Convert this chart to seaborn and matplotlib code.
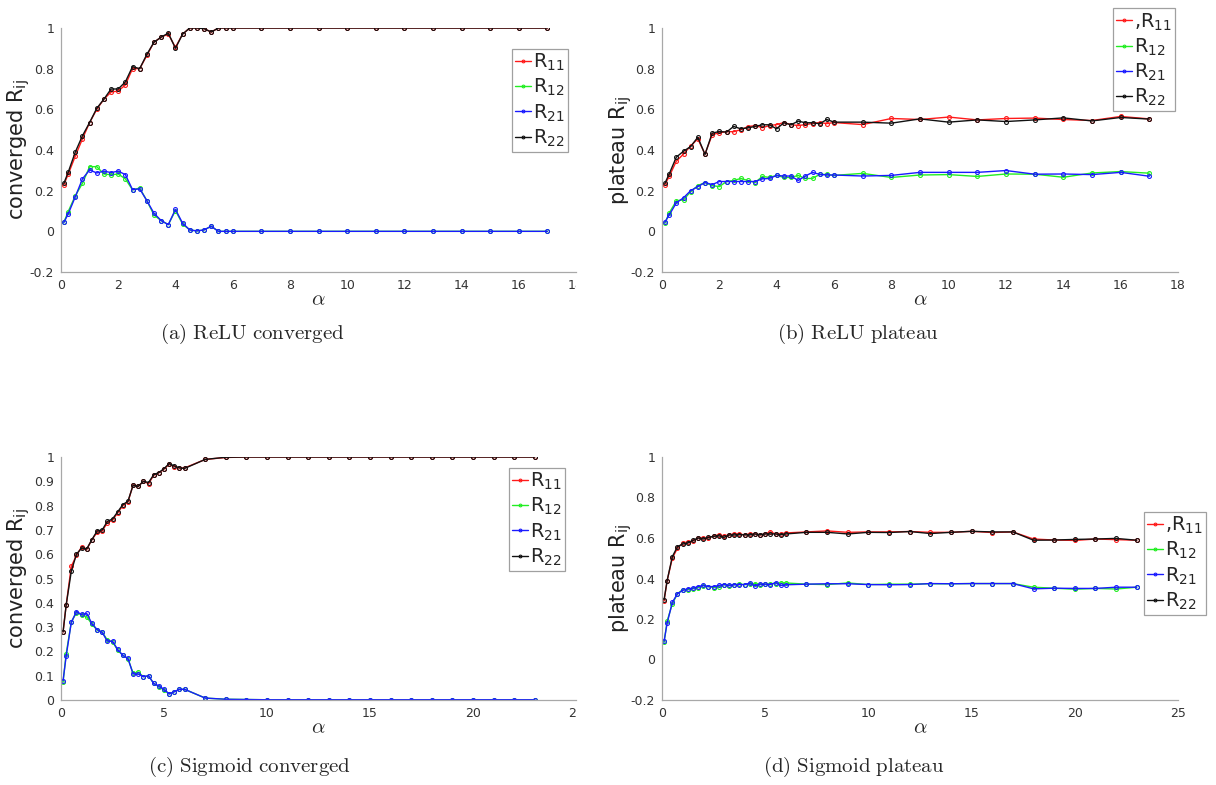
import numpy as np
import pandas as pd
import matplotlib
matplotlib.use("Agg")
import matplotlib.pyplot as plt
import seaborn as sns
from matplotlib.patches import Rectangle

# ---------------- data ----------------
alpha_relu = [0.1, 0.25, 0.5, 0.75, 1, 1.25, 1.5, 1.75, 2, 2.25, 2.5, 2.75, 3, 3.25,
              3.5, 3.75, 4, 4.25, 4.5, 4.75, 5, 5.25, 5.5, 5.75, 6,
              7, 8, 9, 10, 11, 12, 13, 14, 15, 16, 17]
alpha_sig = [0.1, 0.25, 0.5, 0.75, 1, 1.25, 1.5, 1.75, 2, 2.25, 2.5, 2.75, 3, 3.25,
             3.5, 3.75, 4, 4.25, 4.5, 4.75, 5, 5.25, 5.5, 5.75, 6,
             7, 8, 9, 10, 11, 12, 13, 14, 15, 16, 17, 18, 19, 20, 21, 22, 23]

# (a) ReLU converged
a_R11 = [0.23, 0.28, 0.37, 0.455, 0.535, 0.60, 0.65, 0.685, 0.69, 0.72, 0.80, 0.80, 0.865,
         0.93, 0.955, 0.97, 0.905, 0.97, 1.0, 1.0, 0.997, 0.98, 1.0, 1.0, 1.0,
         1.0, 1.0, 1.0, 1.0, 1.0, 1.0, 1.0, 1.0, 1.0, 1.0, 1.0]
a_R12 = [0.044, 0.097, 0.175, 0.236, 0.318, 0.318, 0.282, 0.278, 0.282, 0.258, 0.204, 0.213,
         0.151, 0.08, 0.053, 0.033, 0.102, 0.036, 0.007, 0.002, 0.007, 0.025, 0.0, 0.0, 0.0,
         0.0, 0.0, 0.0, 0.0, 0.0, 0.0, 0.0, 0.0, 0.0, 0.0, 0.0]
a_R21 = [0.044, 0.085, 0.17, 0.258, 0.302, 0.287, 0.296, 0.289, 0.296, 0.279, 0.205, 0.209,
         0.151, 0.089, 0.053, 0.033, 0.108, 0.04, 0.007, 0.002, 0.007, 0.025, 0.0, 0.0, 0.0,
         0.0, 0.0, 0.0, 0.0, 0.0, 0.0, 0.0, 0.0, 0.0, 0.0, 0.0]
a_R22 = [0.236, 0.29, 0.39, 0.47, 0.535, 0.605, 0.65, 0.70, 0.70, 0.735, 0.81, 0.80, 0.87,
         0.93, 0.955, 0.975, 0.90, 0.97, 1.0, 1.0, 0.997, 0.98, 1.0, 1.0, 1.0,
         1.0, 1.0, 1.0, 1.0, 1.0, 1.0, 1.0, 1.0, 1.0, 1.0, 1.0]

# (b) ReLU plateau
b_R11 = [0.23, 0.27, 0.345, 0.38, 0.42, 0.455, 0.38, 0.475, 0.485, 0.49, 0.49, 0.50, 0.515,
         0.52, 0.51, 0.52, 0.525, 0.535, 0.525, 0.52, 0.525, 0.53, 0.535, 0.53, 0.535,
         0.525, 0.555, 0.55, 0.562, 0.548, 0.555, 0.557, 0.55, 0.545, 0.565, 0.553]
b_R12 = [0.04, 0.09, 0.15, 0.155, 0.195, 0.225, 0.24, 0.225, 0.22, 0.245, 0.25, 0.26, 0.25,
         0.24, 0.27, 0.265, 0.275, 0.265, 0.265, 0.275, 0.26, 0.26, 0.28, 0.28, 0.275,
         0.285, 0.265, 0.277, 0.279, 0.27, 0.282, 0.281, 0.266, 0.287, 0.294, 0.286]
b_R21 = [0.045, 0.08, 0.14, 0.165, 0.2, 0.22, 0.24, 0.23, 0.245, 0.245, 0.245, 0.245, 0.245,
         0.245, 0.258, 0.26, 0.275, 0.272, 0.272, 0.25, 0.272, 0.29, 0.28, 0.277, 0.277,
         0.272, 0.275, 0.29, 0.29, 0.29, 0.299, 0.281, 0.282, 0.279, 0.29, 0.271]
b_R22 = [0.236, 0.282, 0.365, 0.394, 0.417, 0.463, 0.378, 0.483, 0.491, 0.488, 0.516, 0.504,
         0.509, 0.516, 0.524, 0.524, 0.504, 0.534, 0.524, 0.542, 0.534, 0.534, 0.529, 0.55,
         0.537, 0.537, 0.532, 0.553, 0.537, 0.548, 0.54, 0.548, 0.558, 0.543, 0.56, 0.552]

# (c) Sigmoid converged
c_R11 = [0.28, 0.39, 0.55, 0.595, 0.63, 0.62, 0.66, 0.69, 0.695, 0.73, 0.74, 0.77, 0.80,
         0.815, 0.885, 0.88, 0.90, 0.89, 0.925, 0.935, 0.95, 0.97, 0.96, 0.955, 0.955,
         0.99, 0.998, 1.0, 1.0, 1.0, 1.0, 1.0, 1.0, 1.0, 1.0, 1.0, 1.0, 1.0, 1.0, 1.0, 1.0, 1.0]
c_R12 = [0.073, 0.19, 0.32, 0.36, 0.35, 0.342, 0.312, 0.288, 0.28, 0.246, 0.24, 0.205, 0.184,
         0.17, 0.11, 0.115, 0.096, 0.10, 0.068, 0.055, 0.041, 0.025, 0.034, 0.044, 0.044,
         0.008, 0.003, 0.002, 0.001, 0.001, 0.001, 0.001, 0.001, 0.001, 0.001, 0.001, 0.001,
         0.001, 0.001, 0.001, 0.001, 0.001]
c_R21 = [0.08, 0.18, 0.32, 0.364, 0.352, 0.356, 0.315, 0.29, 0.278, 0.242, 0.242, 0.208, 0.184,
         0.171, 0.107, 0.107, 0.096, 0.10, 0.068, 0.058, 0.044, 0.025, 0.034, 0.044, 0.044,
         0.008, 0.003, 0.002, 0.001, 0.001, 0.001, 0.001, 0.001, 0.001, 0.001, 0.001, 0.001,
         0.001, 0.001, 0.001, 0.001, 0.001]
c_R22 = [0.28, 0.39, 0.53, 0.60, 0.625, 0.622, 0.66, 0.695, 0.70, 0.735, 0.745, 0.774, 0.804,
         0.818, 0.884, 0.879, 0.90, 0.895, 0.927, 0.936, 0.952, 0.973, 0.963, 0.955, 0.953,
         0.99, 0.999, 1.0, 1.0, 1.0, 1.0, 1.0, 1.0, 1.0, 1.0, 1.0, 1.0, 1.0, 1.0, 1.0, 1.0, 1.0]

# (d) Sigmoid plateau
d_R11 = [0.29, 0.39, 0.50, 0.55, 0.575, 0.58, 0.585, 0.60, 0.60, 0.60, 0.61, 0.615, 0.61,
         0.615, 0.62, 0.62, 0.615, 0.62, 0.62, 0.615, 0.62, 0.63, 0.62, 0.62, 0.625,
         0.63, 0.635, 0.628, 0.63, 0.63, 0.632, 0.628, 0.628, 0.633, 0.627, 0.63,
         0.595, 0.59, 0.588, 0.595, 0.592, 0.589]
d_R12 = [0.085, 0.19, 0.275, 0.325, 0.345, 0.345, 0.35, 0.355, 0.365, 0.36, 0.355, 0.36, 0.37,
         0.365, 0.37, 0.372, 0.37, 0.372, 0.375, 0.37, 0.372, 0.372, 0.375, 0.378, 0.378,
         0.372, 0.37, 0.378, 0.37, 0.372, 0.372, 0.374, 0.374, 0.375, 0.375, 0.375,
         0.357, 0.352, 0.347, 0.351, 0.348, 0.357]
d_R21 = [0.09, 0.18, 0.282, 0.325, 0.341, 0.349, 0.352, 0.36, 0.366, 0.36, 0.36, 0.366, 0.37,
         0.366, 0.369, 0.37, 0.37, 0.377, 0.364, 0.372, 0.372, 0.37, 0.38, 0.366, 0.369,
         0.372, 0.374, 0.374, 0.37, 0.369, 0.37, 0.375, 0.374, 0.375, 0.375, 0.375,
         0.349, 0.352, 0.351, 0.351, 0.357, 0.357]
d_R22 = [0.295, 0.39, 0.508, 0.557, 0.57, 0.575, 0.588, 0.60, 0.595, 0.603, 0.608, 0.611, 0.603,
         0.615, 0.615, 0.616, 0.616, 0.615, 0.62, 0.616, 0.62, 0.62, 0.62, 0.616, 0.62,
         0.628, 0.628, 0.62, 0.628, 0.627, 0.632, 0.622, 0.628, 0.633, 0.63, 0.63,
         0.589, 0.59, 0.593, 0.595, 0.598, 0.589]

series_names = ["R11", "R12", "R21", "R22"]
series_colors = ["#ff1a1a", "#22ee22", "#1a1aff", "#111111"]
labels_plain = [r"R$_{11}$", r"R$_{12}$", r"R$_{21}$", r"R$_{22}$"]
labels_comma = [r",R$_{11}$", r"R$_{12}$", r"R$_{21}$", r"R$_{22}$"]

captions = ["(a) ReLU converged", "(b) ReLU plateau",
            "(c) Sigmoid converged", "(d) Sigmoid plateau"]

# ---------------- style ----------------
sns.set_style("white")
plt.rcParams["font.family"] = ["DejaVu Sans"]
plt.rcParams["mathtext.fontset"] = "dejavusans"

W, H = 1216, 785
fig = plt.figure(figsize=(W / 100, H / 100), dpi=100)


def fx(px):
    return px / W


def fy(py):
    return 1 - py / H


def make_df(x, ys):
    rows = []
    for name, y in zip(series_names, ys):
        for xi, yi in zip(x, y):
            rows.append({"alpha": xi, "R": yi, "series": name})
    return pd.DataFrame(rows)


panels = [
    dict(box=(61, 576, 28, 272), x=alpha_relu, ys=[a_R11, a_R12, a_R21, a_R22],
         xlim=(0, 18), xticks=np.arange(0, 19, 2), ylim=(-0.2, 1), yticks=np.arange(-0.2, 1.01, 0.2),
         ylabel=r"converged R$_{\mathrm{ij}}$", ylx=19, leg=((568, 49), "upper right"),
         labels=labels_plain, cap=(160, 334), crop=True),
    dict(box=(662, 1178, 28, 272), x=alpha_relu, ys=[b_R11, b_R12, b_R21, b_R22],
         xlim=(0, 18), xticks=np.arange(0, 19, 2), ylim=(-0.2, 1), yticks=np.arange(-0.2, 1.01, 0.2),
         ylabel=r"plateau R$_{\mathrm{ij}}$", ylx=621, leg=((1175, 111), "lower right"),
         labels=labels_comma, cap=(777, 334), crop=False),
    dict(box=(61, 576, 457, 700), x=alpha_sig, ys=[c_R11, c_R12, c_R21, c_R22],
         xlim=(0, 25), xticks=np.arange(0, 26, 5), ylim=(0, 1), yticks=np.arange(0, 1.01, 0.1),
         ylabel=r"converged R$_{\mathrm{ij}}$", ylx=19, leg=((565, 468), "upper right"),
         labels=labels_plain, cap=(148, 767), crop=True),
    dict(box=(662, 1178, 457, 700), x=alpha_sig, ys=[d_R11, d_R12, d_R21, d_R22],
         xlim=(0, 25), xticks=np.arange(0, 26, 5), ylim=(-0.2, 1), yticks=np.arange(-0.2, 1.01, 0.2),
         ylabel=r"plateau R$_{\mathrm{ij}}$", ylx=621, leg=((1206, 512), "upper right"),
         labels=labels_comma, cap=(763, 767), crop=False),
]

spine_col = "#a8a8a8"
tick_lab_col = "#333333"

for p, cap in zip(panels, captions):
    l, r, t, b = p["box"]
    ax = fig.add_axes([fx(l), fy(b), fx(r) - fx(l), fy(t) - fy(b)])
    df = make_df(p["x"], p["ys"])
    sns.lineplot(data=df, x="alpha", y="R", hue="series", hue_order=series_names,
                 palette=dict(zip(series_names, series_colors)), marker="o",
                 markersize=2.8, markerfacecolor="none", markeredgewidth=0.8,
                 linewidth=1.0, estimator=None, sort=False, legend=False, ax=ax)
    for ln, c in zip(ax.get_lines(), series_colors):
        ln.set_markeredgecolor(c)

    ax.set_xlim(*p["xlim"])
    ax.set_ylim(*p["ylim"])
    ax.set_xticks(p["xticks"])
    ax.set_xticklabels([f"{v:g}" for v in p["xticks"]])
    yt = np.round(p["yticks"], 2)
    ax.set_yticks(yt)
    ax.set_yticklabels([f"{v:g}" for v in yt])
    ax.tick_params(direction="in", length=4, width=0.8, color=spine_col,
                   labelsize=9, labelcolor=tick_lab_col, pad=5)
    for s in ["top", "right"]:
        ax.spines[s].set_visible(False)
    for s in ["left", "bottom"]:
        ax.spines[s].set_color(spine_col)
        ax.spines[s].set_linewidth(0.9)

    ax.set_xlabel(r"$\alpha$", fontsize=15, math_fontfamily="cm", va="center")
    ax.xaxis.set_label_coords(0.5, -27 / (b - t))
    ax.set_ylabel(p["ylabel"], fontsize=15, color="#222222", va="center")
    ax.yaxis.set_label_coords((p["ylx"] - l) / (r - l), 0.5)

    handles = ax.get_lines()[:4]
    (lx, ly), loc = p["leg"]
    leg = ax.legend(handles, p["labels"], loc=loc, bbox_to_anchor=(fx(lx), fy(ly)),
                    bbox_transform=fig.transFigure, fontsize=14, frameon=True,
                    fancybox=False, framealpha=1, edgecolor="#a0a0a0",
                    handlelength=0.8, handletextpad=0.12, borderpad=0.15,
                    labelspacing=0.2, borderaxespad=0, markerscale=0.7)
    leg.get_frame().set_linewidth(0.9)

    fig.text(fx(p["cap"][0]), fy(p["cap"][1]),
             r"$\mathrm{" + cap.replace(" ", r"\ ") + "}$",
             fontsize=15, math_fontfamily="cm", ha="left", va="center")

    # the subfigure is cropped at its right edge in the original: the last
    # x tick label is cut in half
    if p["crop"]:
        fig.add_artist(Rectangle((fx(576), fy(b + 24)), fx(28), 22 / H,
                                 transform=fig.transFigure, facecolor="white",
                                 edgecolor="none", zorder=10))

fig.savefig("out.png", dpi=100)
